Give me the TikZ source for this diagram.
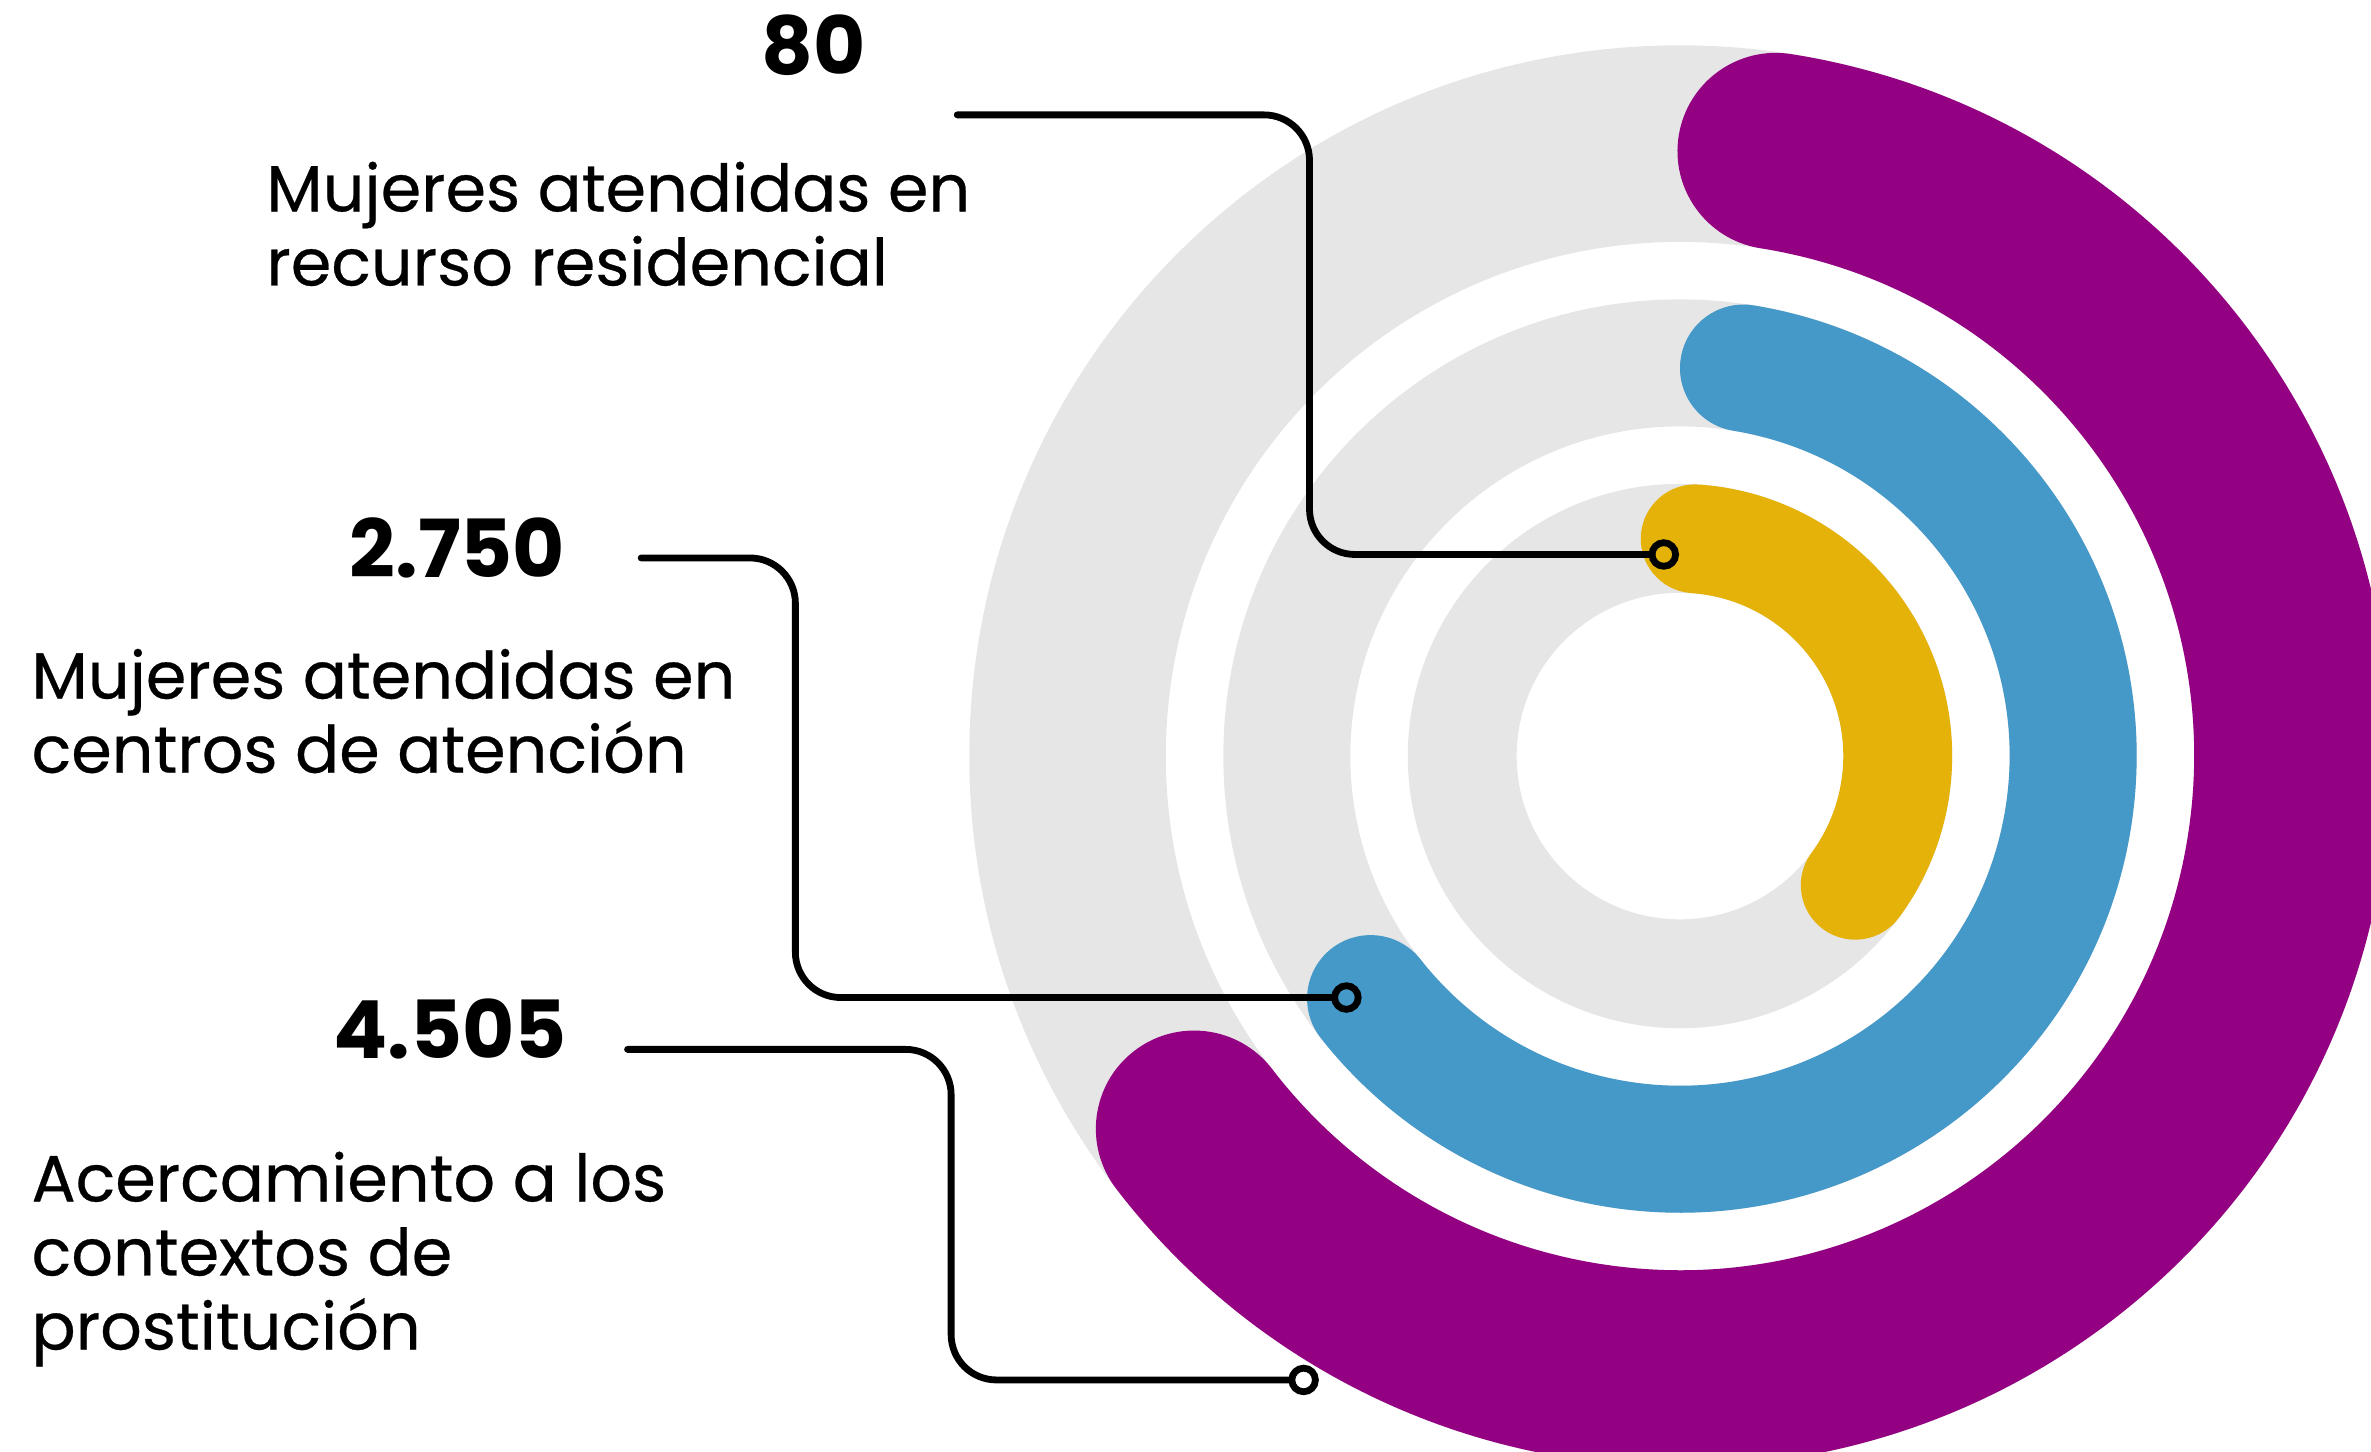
\documentclass[tikz,border=0pt]{standalone}
\usepackage{fontspec}
\setmainfont{Poppins}
\newfontfamily\medfam{Poppins}[FakeBold=0.4]
\usepackage{tikz}
\usetikzlibrary{calc}
\definecolor{ringgray}{HTML}{E6E6E6}
\definecolor{violeta}{HTML}{930082}
\definecolor{azul}{HTML}{4499C9}
\definecolor{ambar}{HTML}{E5B20A}

\begin{document}
\begin{tikzpicture}[x=1pt,y=1pt,
    leader/.style={line width=4.5pt,line cap=round,rounded corners=30pt},
    marker/.style={circle,draw,line width=4.5pt,inner sep=0pt,outer sep=0pt,minimum size=15.6pt},
    cifra/.style={inner sep=0pt,font=\fontsize{53}{60}\selectfont\bfseries},
    texto/.style={inner sep=0pt,align=left,font=\medfam\fontsize{43.2}{49}\selectfont}]
    \useasboundingbox (0,0) rectangle (1568,960);
    \clip (0,0) rectangle (1568,960);
    \coordinate (c) at (1111,460);
    % gray tracks
    \fill[ringgray,even odd rule] (c) circle (470) circle (340);
    \fill[ringgray,even odd rule] (c) circle (302) circle (218);
    \fill[ringgray,even odd rule] (c) circle (180) circle (108);
    % values
    \draw[violeta,line width=130pt,line cap=round] ($(c)+(81:405)$) arc[start angle=81,end angle=-142.5,radius=405];
    \draw[azul,line width=84pt,line cap=round] ($(c)+(80.7:260)$) arc[start angle=80.7,end angle=-141.9,radius=260];
    \draw[ambar,line width=72pt,line cap=round] ($(c)+(86:144)$) arc[start angle=86,end angle=-36.4,radius=144];
    % markers
    \node[marker] (m80) at (1100.3,593.3) {};
    \node[marker] (m2750) at (890.4,300.3) {};
    \node[marker] (m4505) at (862.1,47.4) {};
    % leaders
    \coordinate (s80) at (633,884);
    \coordinate (k80) at (866,740);
    \coordinate (s2750) at (424,591);
    \coordinate (k2750) at (526,450);
    \coordinate (s4505) at (415,266);
    \coordinate (k4505) at (629,150);
    \draw[leader] (s80) -| (k80) |- (m80.west);
    \draw[leader] (s2750) -| (k2750) |- (m2750.west);
    \draw[leader] (s4505) -| (k4505) |- (m4505.west);
    % labels (base = last line)
    \node[cifra,anchor=base east] (n80) at (572.5,910.6) {80};
    \node[texto,anchor=base west] (t80) at (176,771.2) {Mujeres atendidas en\\recurso residencial};
    \node[cifra,anchor=base east] (n2750) at (374,578) {2.750};
    \node[texto,anchor=base west] (t2750) at (20.7,449) {Mujeres atendidas en\\centros de atención};
    \node[cifra,anchor=base east] (n4505) at (375,260) {4.505};
    \node[texto,anchor=base west] (t4505) at (20.7,67.5) {Acercamiento a los\\contextos de\\prostitución};
\end{tikzpicture}
\end{document}
